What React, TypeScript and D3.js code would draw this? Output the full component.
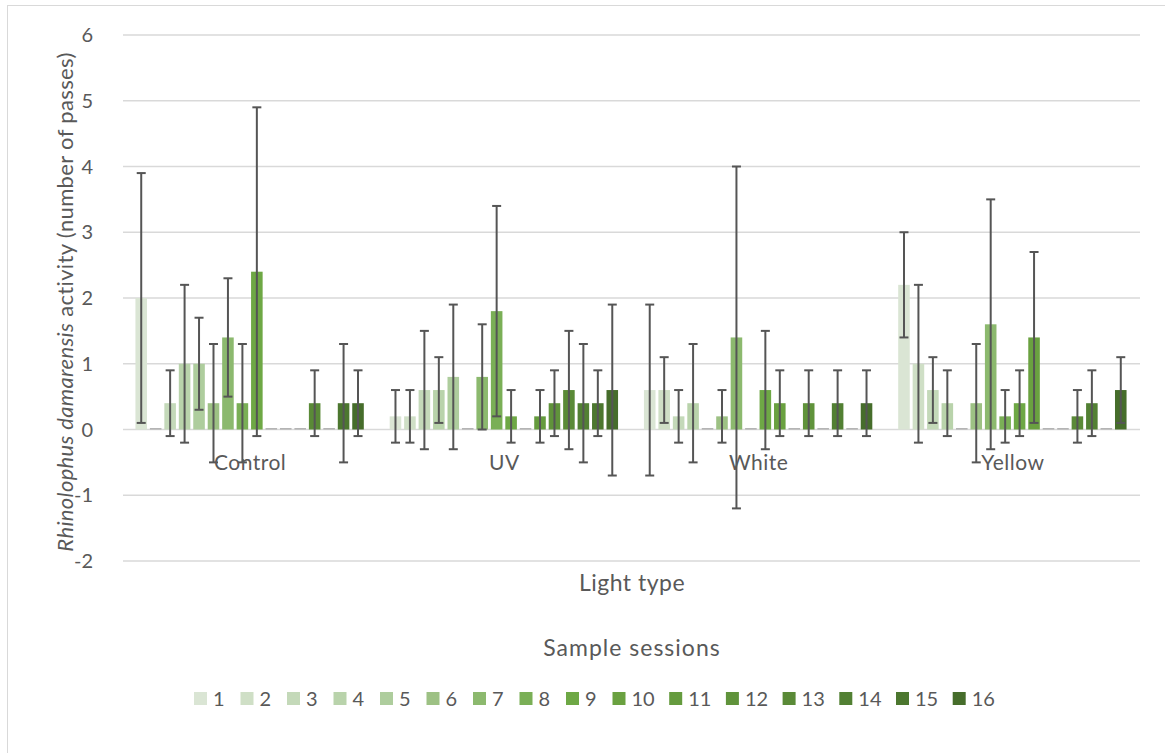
import React from "react";
import * as d3 from "d3";

const categories = ["Control", "UV", "White", "Yellow"];
const sessions = ["1","2","3","4","5","6","7","8","9","10","11","12","13","14","15","16"];

// mean values per session for each light type
const controlValues = [2.0, 0, 0.4, 1.0, 1.0, 0.4, 1.4, 0.4, 2.4, 0, 0, 0, 0.4, 0, 0.4, 0.4];
const uvValues      = [0.2, 0.2, 0.6, 0.6, 0.8, 0, 0.8, 1.8, 0.2, 0, 0.2, 0.4, 0.6, 0.4, 0.4, 0.6];
const whiteValues   = [0.6, 0.6, 0.2, 0.4, 0, 0.2, 1.4, 0, 0.6, 0.4, 0, 0.4, 0, 0.4, 0, 0.4];
const yellowValues  = [2.2, 1.0, 0.6, 0.4, 0, 0.4, 1.6, 0.2, 0.4, 1.4, 0, 0, 0.2, 0.4, 0, 0.6];

// error (±) per session
const controlErrors = [1.9, 0, 0.5, 1.2, 0.7, 0.9, 0.9, 0.9, 2.5, 0, 0, 0, 0.5, 0, 0.9, 0.5];
const uvErrors      = [0.4, 0.4, 0.9, 0.5, 1.1, 0, 0.8, 1.6, 0.4, 0, 0.4, 0.5, 0.9, 0.9, 0.5, 1.3];
const whiteErrors   = [1.3, 0.5, 0.4, 0.9, 0, 0.4, 2.6, 0, 0.9, 0.5, 0, 0.5, 0, 0.5, 0, 0.5];
const yellowErrors  = [0.8, 1.2, 0.5, 0.5, 0, 0.9, 1.9, 0.4, 0.5, 1.3, 0, 0, 0.4, 0.5, 0, 0.5];

const yTicks = [-2, -1, 0, 1, 2, 3, 4, 5, 6];

const colors = [
  "#dae5d4", "#cfdfc6", "#c4d9b9", "#b9d3ab", "#aecd9d", "#9dc184", "#8cb96e", "#7aaf56",
  "#6ea845", "#6aa140", "#659b3e", "#60933b", "#5a8a37", "#528033", "#4c772f", "#466d2b",
];

const valueTable = [controlValues, uvValues, whiteValues, yellowValues];
const errorTable = [controlErrors, uvErrors, whiteErrors, yellowErrors];

const FONT = "Lato, 'Open Sans', sans-serif";
const TXT = "#595959";

export default function App() {
  const W = 1165, H = 753;
  const left = 123, right = 1140, top = 35, bottom = 561;

  const y = d3.scaleLinear().domain([-2, 6]).range([bottom, top]);
  const x0 = d3.scaleBand().domain(categories).range([left, right]).padding(0);
  const bw = x0.bandwidth();
  const x1 = d3.scaleBand().domain(sessions).range([11, bw - 12]).paddingInner(0.2).paddingOuter(0.1);
  const y0 = y(0);
  const cap = 4.5;

  // legend layout
  const legendItems: { x: number; label: string; color: string }[] = [];
  let lx = 194;
  sessions.forEach((s, i) => {
    legendItems.push({ x: lx, label: s, color: colors[i] });
    lx += 13 + 6 + s.length * 10.2 + 17.3;
  });

  return (
    <svg width={W} height={H} style={{ position: "absolute", left: 0, top: 0, background: "#fff" }}>
      <rect x={7.5} y={5.5} width={1170} height={770} fill="#fff" stroke="#d9d9d9" strokeWidth={1} />
      {yTicks.map((t) => (
        <g key={t}>
          <line x1={left} x2={right} y1={y(t)} y2={y(t)} stroke="#d9d9d9" strokeWidth={1.3} />
          <text x={93} y={y(t) + 7} textAnchor="end" fontFamily={FONT} fontSize={20} fill={TXT}>{t}</text>
        </g>
      ))}
      {categories.map((c, ci) => (
        <g key={c} transform={`translate(${x0(c)},0)`}>
          {sessions.map((s, si) => {
            const v = valueTable[ci][si];
            const bx = x1(s) as number;
            const w = x1.bandwidth();
            if (v === 0) {
              return <rect key={s} x={bx} y={y0 - 1.5} width={w} height={1.6} fill="#b4b4b4" />;
            }
            return <rect key={s} x={bx} y={y(v)} width={w} height={y0 - y(v)} fill={colors[si]} />;
          })}
        </g>
      ))}
      {categories.map((c, ci) => (
        <g key={c + "e"} transform={`translate(${x0(c)},0)`}>
          {sessions.map((s, si) => {
            const v = valueTable[ci][si];
            const e = errorTable[ci][si];
            if (e === 0) return null;
            const cx = (x1(s) as number) + x1.bandwidth() / 2;
            const yt = y(v + e), yb = y(v - e);
            return (
              <g key={s} stroke="#555555" strokeWidth={2}>
                <line x1={cx} x2={cx} y1={yt} y2={yb} />
                <line x1={cx - cap} x2={cx + cap} y1={yt} y2={yt} />
                <line x1={cx - cap} x2={cx + cap} y1={yb} y2={yb} />
              </g>
            );
          })}
          <text x={bw / 2} y={470} textAnchor="middle" fontFamily={FONT} fontSize={21} letterSpacing={0.5} fill={TXT}>{c}</text>
        </g>
      ))}
      <text transform={`translate(73,${302}) rotate(-90)`} textAnchor="middle" fontFamily={FONT} fontSize={22} letterSpacing={0.35} fill={TXT}>
        <tspan fontStyle="italic">Rhinolophus damarensis</tspan>
        <tspan> activity (number of passes)</tspan>
      </text>
      <text x={632} y={591} textAnchor="middle" fontFamily={FONT} fontSize={23} letterSpacing={0.5} fill={TXT}>Light type</text>
      <text x={632} y={656} textAnchor="middle" fontFamily={FONT} fontSize={23} letterSpacing={1} fill={TXT}>Sample sessions</text>
      {legendItems.map((it) => (
        <g key={it.label}>
          <rect x={it.x} y={692} width={13} height={13} fill={it.color} />
          <text x={it.x + 19} y={706} fontFamily={FONT} fontSize={20} fill={TXT}>{it.label}</text>
        </g>
      ))}
    </svg>
  );
}
